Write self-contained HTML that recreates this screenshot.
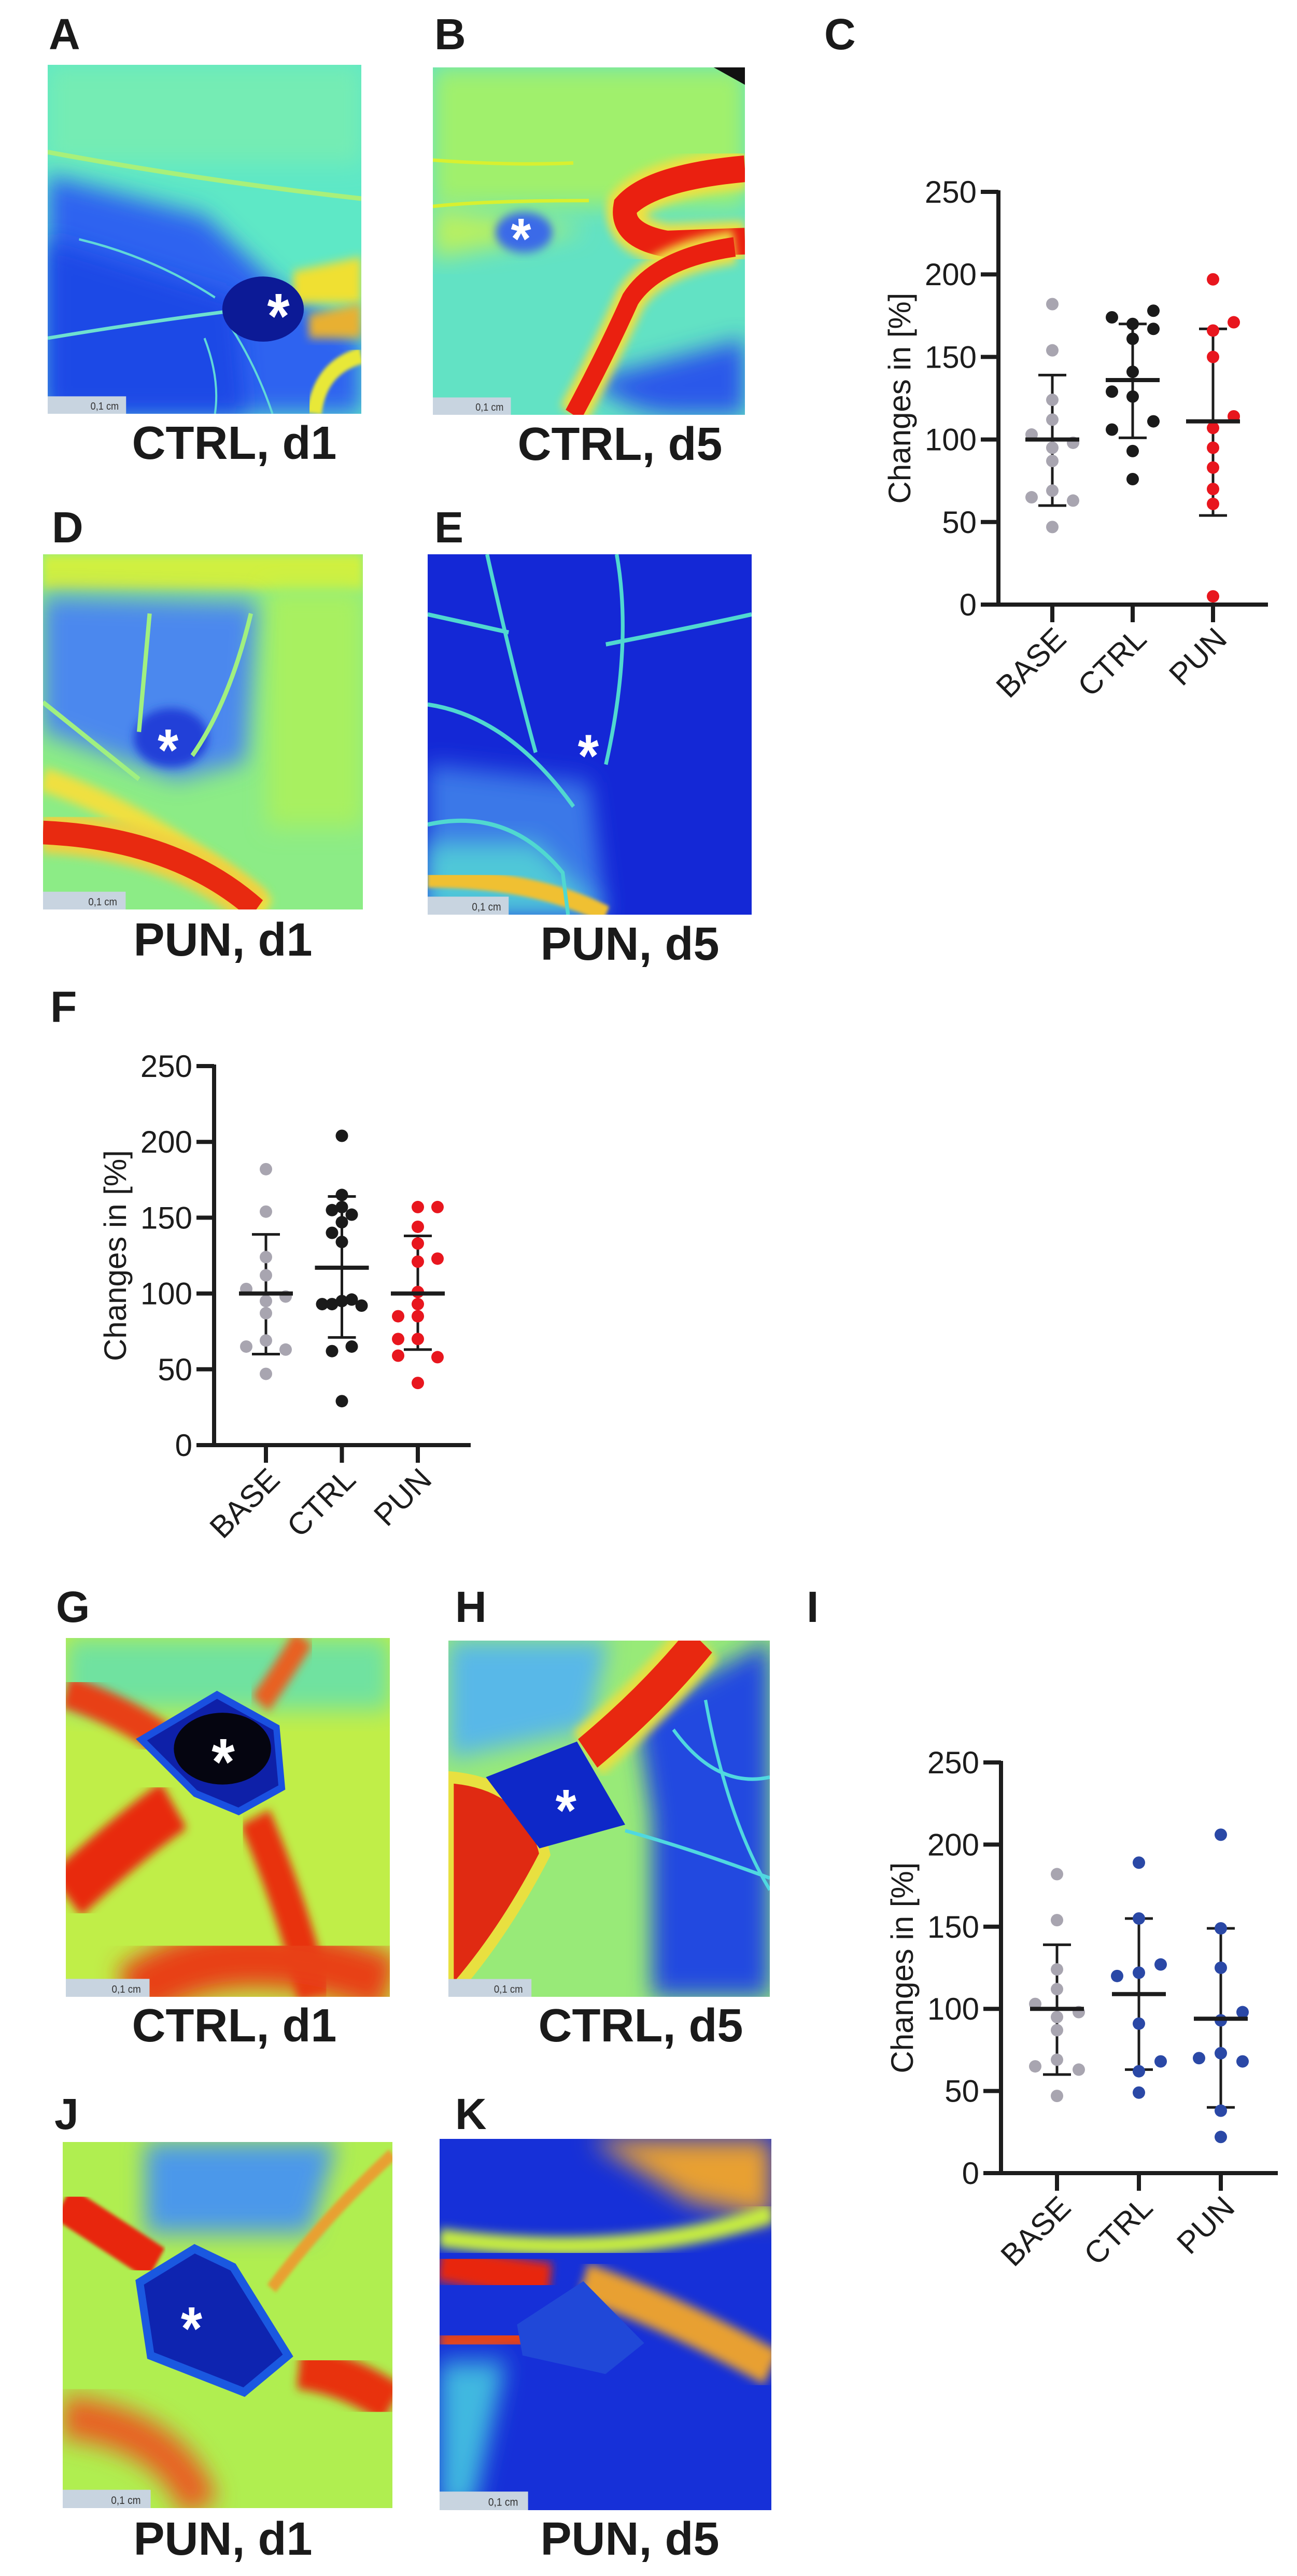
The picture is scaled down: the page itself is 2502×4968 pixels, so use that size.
<!DOCTYPE html>
<html><head><meta charset="utf-8">
<style>
html,body{margin:0;padding:0;background:#fff;}
body{width:2502px;height:4968px;position:relative;overflow:hidden;font-family:"Liberation Sans",Arial,sans-serif;}
.img{position:absolute;display:block;}
.lbl{position:absolute;font-weight:bold;font-size:84px;line-height:1;color:#1a1a1a;}
.cap{position:absolute;font-weight:bold;font-size:90px;line-height:1;color:#1a1a1a;white-space:nowrap;text-align:center;}
</style></head>
<body>
<svg width="0" height="0" style="position:absolute">
<defs>
<filter id="b8" x="-20%" y="-20%" width="140%" height="140%"><feGaussianBlur stdDeviation="8"/></filter>
<filter id="b20" x="-30%" y="-30%" width="160%" height="160%"><feGaussianBlur stdDeviation="20"/></filter>
<filter id="b3"><feGaussianBlur stdDeviation="3"/></filter>
</defs>
</svg>

<!-- Panel labels -->
<div class="lbl" style="left:94px;top:24px;">A</div>
<div class="lbl" style="left:838px;top:24px;">B</div>
<div class="lbl" style="left:1590px;top:24px;">C</div>
<div class="lbl" style="left:100px;top:975px;">D</div>
<div class="lbl" style="left:838px;top:975px;">E</div>
<div class="lbl" style="left:97px;top:1900px;">F</div>
<div class="lbl" style="left:108px;top:3057px;">G</div>
<div class="lbl" style="left:878px;top:3057px;">H</div>
<div class="lbl" style="left:1556px;top:3057px;">I</div>
<div class="lbl" style="left:105px;top:4035px;">J</div>
<div class="lbl" style="left:878px;top:4035px;">K</div>

<!-- Captions -->
<div class="cap" style="left:252px;top:810px;width:400px;">CTRL, d1</div>
<div class="cap" style="left:996px;top:812px;width:400px;">CTRL, d5</div>
<div class="cap" style="left:230px;top:1768px;width:400px;">PUN, d1</div>
<div class="cap" style="left:1015px;top:1776px;width:400px;">PUN, d5</div>
<div class="cap" style="left:252px;top:3862px;width:400px;">CTRL, d1</div>
<div class="cap" style="left:1036px;top:3862px;width:400px;">CTRL, d5</div>
<div class="cap" style="left:230px;top:4852px;width:400px;">PUN, d1</div>
<div class="cap" style="left:1015px;top:4852px;width:400px;">PUN, d5</div>

<!-- Image A -->
<svg class="img" style="left:92px;top:125px" width="605" height="673" viewBox="0 0 600 600" preserveAspectRatio="none">
<rect width="600" height="600" fill="#5ee8c6"/>
<rect width="600" height="170" fill="#74ecb4" filter="url(#b20)"/>
<path d="M0 190 L300 260 L440 380 L600 470 L600 600 L0 600Z" fill="#2f63f0" filter="url(#b20)"/>
<path d="M0 300 L360 400 L380 600 L0 600Z" fill="#1f48e6" filter="url(#b20)"/>
<path d="M600 330 L470 355 L470 410 L600 410Z" fill="#f0e030" filter="url(#b8)"/>
<path d="M600 410 L500 430 L500 470 L600 470Z" fill="#e8b030" filter="url(#b8)"/>
<path d="M510 600 Q520 520 600 500" stroke="#e8e838" stroke-width="28" fill="none" filter="url(#b3)"/>
<path d="M0 150 Q300 200 600 230" stroke="#a8f07a" stroke-width="8" fill="none"/>
<path d="M0 470 Q200 440 380 420" stroke="#6ee0d0" stroke-width="6" fill="none"/>
<path d="M350 450 Q400 520 430 600 M300 470 Q330 540 320 600 M60 300 Q200 330 320 400" stroke="#60d8d8" stroke-width="4" fill="none"/>
<ellipse cx="412" cy="420" rx="78" ry="56" fill="#0c1a96"/>
<text x="420" y="470" font-size="110" font-weight="bold" fill="#fff" font-family="Liberation Sans,sans-serif">*</text>
<rect x="0" y="570" width="150" height="30" fill="#c8d4e0"/>
<text x="82" y="593" font-size="18" fill="#333" font-family="Liberation Sans,sans-serif">0,1 cm</text>
</svg>

<!-- Image B -->
<svg class="img" style="left:835px;top:130px" width="602" height="670" viewBox="0 0 600 600" preserveAspectRatio="none">
<rect width="600" height="600" fill="#62e2c4"/>
<rect width="600" height="240" fill="#a0f06c" filter="url(#b20)"/>
<path d="M0 240 L300 280 L0 330Z" fill="#b8f060" filter="url(#b20)"/>
<path d="M470 600 Q380 600 300 540 L600 470 L600 600Z" fill="#2a58ea" filter="url(#b20)"/>
<path d="M600 175 Q420 190 370 240 Q360 290 450 305 L600 300" stroke="#f0e040" stroke-width="70" fill="none" filter="url(#b8)"/>
<path d="M600 175 Q420 190 370 240 Q360 290 450 305 L600 300" stroke="#ea2010" stroke-width="46" fill="none"/>
<path d="M580 310 Q430 330 380 400 Q330 500 270 600" stroke="#f0e040" stroke-width="58" fill="none" filter="url(#b8)"/>
<path d="M580 310 Q430 330 380 400 Q330 500 270 600" stroke="#ea2010" stroke-width="34" fill="none"/>
<path d="M540 0 L600 0 L600 30Z" fill="#111"/>
<ellipse cx="175" cy="285" rx="55" ry="35" fill="#3a6ae8" filter="url(#b8)"/>
<path d="M0 160 Q150 170 270 165 M0 240 Q100 230 300 230" stroke="#d8f030" stroke-width="6" fill="none"/>
<text x="150" y="330" font-size="100" font-weight="bold" fill="#fff" font-family="Liberation Sans,sans-serif">*</text>
<rect x="0" y="570" width="150" height="30" fill="#c8d4e0"/>
<text x="82" y="593" font-size="18" fill="#333" font-family="Liberation Sans,sans-serif">0,1 cm</text>
</svg>

<!-- Image D -->
<svg class="img" style="left:83px;top:1069px" width="617" height="685" viewBox="0 0 600 600" preserveAspectRatio="none">
<rect width="600" height="600" fill="#8cec86"/>
<rect x="0" y="0" width="600" height="60" fill="#d0f040" filter="url(#b8)"/>
<rect x="420" y="60" width="180" height="400" fill="#a8f060" filter="url(#b20)"/>
<path d="M0 70 L400 80 L380 350 L250 380 L0 300Z" fill="#4c88ee" filter="url(#b20)"/>
<ellipse cx="240" cy="310" rx="70" ry="50" fill="#2040d8" filter="url(#b8)"/>
<path d="M0 380 Q200 440 420 600" stroke="#f0e040" stroke-width="40" fill="none" filter="url(#b8)"/>
<path d="M0 470 Q250 480 400 600" stroke="#f0d040" stroke-width="70" fill="none" filter="url(#b8)"/>
<path d="M0 470 Q250 480 400 600" stroke="#e82a10" stroke-width="40" fill="none"/>
<path d="M0 250 L180 380 M200 100 L180 300 M390 100 Q350 250 280 340" stroke="#a0f080" stroke-width="8" fill="none"/>
<text x="215" y="365" font-size="100" font-weight="bold" fill="#fff" font-family="Liberation Sans,sans-serif">*</text>
<rect x="0" y="570" width="155" height="30" fill="#c8d4e0"/>
<text x="85" y="593" font-size="18" fill="#333" font-family="Liberation Sans,sans-serif">0,1 cm</text>
</svg>

<!-- Image E -->
<svg class="img" style="left:825px;top:1069px" width="625" height="695" viewBox="0 0 600 600" preserveAspectRatio="none">
<rect width="600" height="600" fill="#1428d6"/>
<path d="M0 350 L300 380 L330 600 L0 600Z" fill="#3a78e8" filter="url(#b20)"/>
<path d="M0 480 L200 480 L330 600 L0 600Z" fill="#50c8d8" filter="url(#b20)"/>
<path d="M0 540 Q200 540 330 600" stroke="#f0c030" stroke-width="30" fill="none" filter="url(#b3)"/>
<path d="M0 100 Q100 120 150 130 M110 0 Q160 200 200 330 M350 0 Q380 150 330 350 M0 250 Q150 270 270 420 M0 450 Q150 420 250 530 L260 600 M330 150 Q500 120 600 100" stroke="#50d8d0" stroke-width="7" fill="none"/>
<text x="278" y="370" font-size="100" font-weight="bold" fill="#fff" font-family="Liberation Sans,sans-serif">*</text>
<rect x="0" y="570" width="150" height="30" fill="#c8d4e0"/>
<text x="82" y="593" font-size="18" fill="#333" font-family="Liberation Sans,sans-serif">0,1 cm</text>
</svg>

<!-- Image G -->
<svg class="img" style="left:127px;top:3159px" width="625" height="692" viewBox="0 0 600 600" preserveAspectRatio="none">
<rect width="600" height="600" fill="#c0ee48"/>
<rect width="600" height="120" fill="#70e2a0" filter="url(#b20)"/>
<path d="M0 90 Q100 120 180 170" stroke="#e84018" stroke-width="55" fill="none" filter="url(#b8)"/>
<path d="M0 430 Q120 330 200 280" stroke="#e82a10" stroke-width="90" fill="none" filter="url(#b8)"/>
<path d="M350 300 Q420 450 460 600" stroke="#e83010" stroke-width="60" fill="none" filter="url(#b8)"/>
<path d="M120 600 Q300 480 600 580" stroke="#e84018" stroke-width="100" fill="none" filter="url(#b20)"/>
<path d="M360 110 Q400 60 440 0" stroke="#e86020" stroke-width="40" fill="none" filter="url(#b8)"/>
<path d="M140 170 L280 95 L390 150 L400 250 L320 290 L240 260Z" fill="#0e20a8" stroke="#1a50e0" stroke-width="12"/>
<ellipse cx="290" cy="185" rx="90" ry="60" fill="#050510"/>
<text x="270" y="245" font-size="110" font-weight="bold" fill="#fff" font-family="Liberation Sans,sans-serif">*</text>
<rect x="0" y="570" width="155" height="30" fill="#c8d4e0"/>
<text x="85" y="593" font-size="18" fill="#333" font-family="Liberation Sans,sans-serif">0,1 cm</text>
</svg>

<!-- Image H -->
<svg class="img" style="left:865px;top:3164px" width="620" height="687" viewBox="0 0 600 600" preserveAspectRatio="none">
<rect width="600" height="600" fill="#98ea78"/>
<path d="M0 0 L300 0 L260 150 L0 200Z" fill="#58b8e8" filter="url(#b20)"/>
<path d="M350 120 L600 0 L600 600 L380 600 L380 300Z" fill="#2048e0" filter="url(#b20)"/>
<path d="M470 0 Q380 100 260 190" stroke="#e8e040" stroke-width="90" fill="none" filter="url(#b8)"/>
<path d="M470 0 Q380 100 260 190" stroke="#e82810" stroke-width="60" fill="none"/>
<path d="M0 230 Q150 240 180 360 Q100 500 0 600Z" fill="#e02a12" stroke="#e8e040" stroke-width="20"/>
<path d="M70 230 L240 170 L330 310 L170 350Z" fill="#0e28c8"/>
<path d="M330 320 Q450 350 600 400 M420 150 Q500 250 600 230 M480 100 Q520 300 600 420" stroke="#50d8e0" stroke-width="6" fill="none"/>
<text x="200" y="320" font-size="100" font-weight="bold" fill="#fff" font-family="Liberation Sans,sans-serif">*</text>
<rect x="0" y="570" width="155" height="30" fill="#c8d4e0"/>
<text x="85" y="593" font-size="18" fill="#333" font-family="Liberation Sans,sans-serif">0,1 cm</text>
</svg>

<!-- Image J -->
<svg class="img" style="left:121px;top:4131px" width="636" height="706" viewBox="0 0 600 600" preserveAspectRatio="none">
<rect width="600" height="600" fill="#b0ee50"/>
<path d="M150 0 L500 0 L450 150 L150 150Z" fill="#4c98ea" filter="url(#b20)"/>
<path d="M0 100 Q120 170 170 200" stroke="#e82810" stroke-width="60" fill="none" filter="url(#b3)"/>
<path d="M430 370 Q520 380 600 430" stroke="#e83010" stroke-width="70" fill="none" filter="url(#b8)"/>
<path d="M0 450 Q200 470 250 600" stroke="#e86020" stroke-width="70" fill="none" filter="url(#b20)"/>
<path d="M380 240 Q480 120 600 20" stroke="#e8a030" stroke-width="20" fill="none" filter="url(#b3)"/>
<path d="M140 230 L240 175 L310 205 L410 350 L330 410 L160 350Z" fill="#0e24b0" stroke="#1a58e0" stroke-width="14"/>
<text x="215" y="340" font-size="100" font-weight="bold" fill="#fff" font-family="Liberation Sans,sans-serif">*</text>
<rect x="0" y="570" width="160" height="30" fill="#c8d4e0"/>
<text x="88" y="593" font-size="18" fill="#333" font-family="Liberation Sans,sans-serif">0,1 cm</text>
</svg>

<!-- Image K -->
<svg class="img" style="left:848px;top:4125px" width="640" height="716" viewBox="0 0 600 600" preserveAspectRatio="none">
<rect width="600" height="600" fill="#1630d8"/>
<path d="M270 0 L600 0 L600 130 L450 100Z" fill="#e8a030" filter="url(#b20)"/>
<path d="M0 160 Q350 200 600 120" stroke="#c8ee40" stroke-width="30" fill="none" filter="url(#b8)"/>
<path d="M0 200 Q120 220 200 230" stroke="#e82810" stroke-width="60" fill="none" filter="url(#b8)"/>
<path d="M0 330 Q100 320 170 320" stroke="#e84018" stroke-width="40" fill="none" filter="url(#b8)"/>
<path d="M260 230 Q420 280 600 370" stroke="#e8a030" stroke-width="60" fill="none" filter="url(#b8)"/>
<path d="M0 360 L120 360 L60 600 L0 600Z" fill="#40b8e0" filter="url(#b20)"/>
<path d="M140 300 L260 230 L370 330 L300 380 L150 350Z" fill="#2048d8"/>
<rect x="0" y="570" width="160" height="30" fill="#c8d4e0"/>
<text x="88" y="593" font-size="18" fill="#333" font-family="Liberation Sans,sans-serif">0,1 cm</text>
</svg>

<!-- Charts -->
<svg id="charts" style="position:absolute;left:0;top:0" width="2502" height="4968" viewBox="0 0 2502 4968"></svg>

<script>
// ---- Chart data ----
const categories = ['BASE', 'CTRL', 'PUN'];
const yTicks = [0, 50, 100, 150, 200, 250];
const baseValues = [182, 154, 124, 112, 103, 98, 95, 87, 69, 65, 63, 47];
const baseSide = [0, 0, 0, 0, -1, 1, 0, 0, 0, -1, 1, 0];

// Panel C
const cCtrlValues = [178, 174, 170, 167, 161, 141, 129, 126, 111, 106, 93, 76];
const cCtrlSide = [1, -1, 0, 1, 0, 0, -1, 0, 1, -1, 0, 0];
const cPunValues = [197, 171, 166, 150, 114, 107, 95, 83, 70, 61, 5];
const cPunSide = [0, 1, 0, 0, 1, 0, 0, 0, 0, 0, 0];
const cMeans = [100, 136, 111];
const cErrHigh = [139, 170, 167];
const cErrLow = [60, 101, 54];

// Panel F
const fCtrlValues = [204, 165, 157, 155, 152, 147, 140, 134, 96, 95, 93, 93, 92, 65, 62, 29];
const fCtrlSide = [0, 0, 0, -0.5, 0.5, 0, -0.5, 0, 0.5, 0, -0.5, -1, 1, 0.5, -0.5, 0];
const fPunValues = [157, 157, 144, 133, 123, 121, 101, 93, 85, 85, 70, 70, 59, 58, 41];
const fPunSide = [0, 1, 0, 0, 1, 0, 0, 0, -1, 0, -1, 0, -1, 1, 0];
const fMeans = [100, 117, 100];
const fErrHigh = [139, 164, 138];
const fErrLow = [60, 71, 63];

// Panel I
const iCtrlValues = [189, 155, 127, 122, 120, 91, 68, 62, 49];
const iCtrlSide = [0, 0, 1, 0, -1, 0, 1, 0, 0];
const iPunValues = [206, 149, 125, 98, 93, 73, 70, 68, 38, 22];
const iPunSide = [0, 0, 0, 1, 0, 0, -1, 1, 0, 0];
const iMeans = [100, 109, 94];
const iErrHigh = [139, 155, 149];
const iErrLow = [60, 63, 40];

const NS = 'http://www.w3.org/2000/svg';
const root = document.getElementById('charts');

function mk(tag, attrs, parent) {
  const el = document.createElementNS(NS, tag);
  for (const k in attrs) el.setAttribute(k, attrs[k]);
  parent.appendChild(el);
  return el;
}

function drawChart(name, geo, series, means, hi, lo) {
  const g = mk('g', {}, root);
  
  
  const y = v => geo.y0 - (v / 250) * (geo.y0 - geo.y250);
  const x = i => geo.x0 + i * geo.step;
  const ink = '#1c1c1c';

  // axes
  const yAxis = mk('line', {x1: geo.ax, y1: geo.y250 - 3, x2: geo.ax, y2: geo.y0 + 4, stroke: ink, 'stroke-width': 8}, g);
  
  
  const xAxis = mk('line', {x1: geo.ax - 34, y1: geo.y0, x2: geo.xEnd, y2: geo.y0, stroke: ink, 'stroke-width': 8}, g);
  
  

  yTicks.forEach(t => {
    const tk = mk('line', {x1: geo.ax - 34, y1: y(t), x2: geo.ax, y2: y(t), stroke: ink, 'stroke-width': 8}, g);
    
    
    const tl = mk('text', {x: geo.ax - 42, y: y(t) + 21, 'font-size': 60, 'text-anchor': 'end', fill: ink, 'font-family': 'Liberation Sans, sans-serif'}, g);
    tl.textContent = t;
    
    
  });

  const tt = mk('text', {x: 0, y: 0, 'font-size': 60, 'text-anchor': 'middle', fill: ink, 'font-family': 'Liberation Sans, sans-serif',
    transform: 'translate(' + (geo.ax - 170) + ',' + ((geo.y0 + geo.y250) / 2) + ') rotate(-90)'}, g);
  tt.textContent = 'Changes in [%]';
  
  

  categories.forEach((c, i) => {
    const tk = mk('line', {x1: x(i), y1: geo.y0, x2: x(i), y2: geo.y0 + 34, stroke: ink, 'stroke-width': 8}, g);
    
    
    const cl = mk('text', {x: 0, y: 0, 'font-size': 60, 'text-anchor': 'end', fill: ink, 'font-family': 'Liberation Sans, sans-serif',
      transform: 'translate(' + (x(i) + 30) + ',' + (geo.y0 + 70) + ') rotate(-45)'}, g);
    cl.textContent = c;
    
    
  });

  // error bars
  categories.forEach((c, i) => {
    const cx = x(i);
    const v = mk('line', {x1: cx, y1: y(hi[i]), x2: cx, y2: y(lo[i]), stroke: ink, 'stroke-width': 5}, g);
    
    
    [hi[i], lo[i]].forEach(val => {
      const cap = mk('line', {x1: cx - 27, y1: y(val), x2: cx + 27, y2: y(val), stroke: ink, 'stroke-width': 5}, g);
      
      
    });
  });

  // dots
  series.forEach((s, i) => {
    s.values.forEach((v, k) => {
      const d = mk('circle', {cx: x(i) + s.side[k] * geo.jit, cy: y(v), r: 12, fill: s.color}, g);
      
      
    });
  });

  // mean lines
  categories.forEach((c, i) => {
    const m = mk('line', {x1: x(i) - 52, y1: y(means[i]), x2: x(i) + 52, y2: y(means[i]), stroke: ink, 'stroke-width': 8}, g);
    
    
  });
}

const grey = '#a8a5b0', black = '#1a1a1a', red = '#e8161e', blue = '#2a48a6';

drawChart('chart-c', {ax: 1926, y0: 1166, y250: 370, x0: 2030, step: 155, xEnd: 2446, jit: 40},
  [{values: baseValues, side: baseSide, color: grey},
   {values: cCtrlValues, side: cCtrlSide, color: black},
   {values: cPunValues, side: cPunSide, color: red}], cMeans, cErrHigh, cErrLow);

drawChart('chart-f', {ax: 413, y0: 2787, y250: 2056, x0: 513, step: 146.5, xEnd: 908, jit: 38},
  [{values: baseValues, side: baseSide, color: grey},
   {values: fCtrlValues, side: fCtrlSide, color: black},
   {values: fPunValues, side: fPunSide, color: red}], fMeans, fErrHigh, fErrLow);

drawChart('chart-i', {ax: 1931, y0: 4191, y250: 3399, x0: 2039, step: 158, xEnd: 2465, jit: 42},
  [{values: baseValues, side: baseSide, color: grey},
   {values: iCtrlValues, side: iCtrlSide, color: blue},
   {values: iPunValues, side: iPunSide, color: blue}], iMeans, iErrHigh, iErrLow);
</script>
</body></html>
